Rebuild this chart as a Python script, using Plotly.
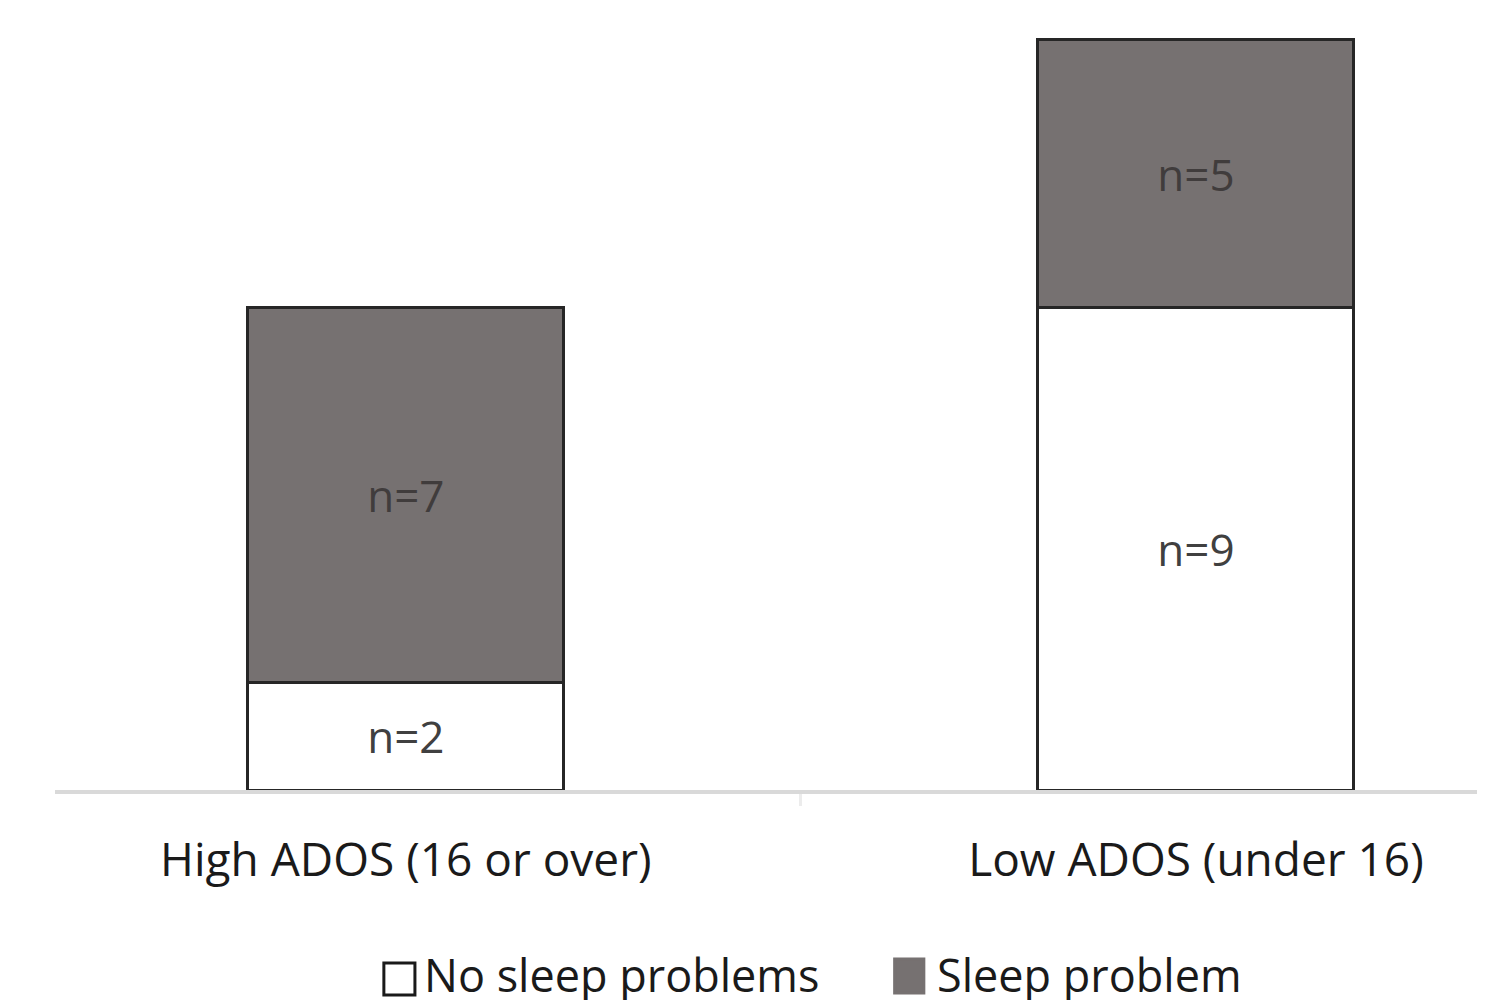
import plotly.graph_objects as go

categories = ["High ADOS (16 or over)", "Low ADOS (under 16)"]
no_sleep_problems = [2, 9]
sleep_problem = [7, 5]
series_names = ["No sleep problems", "Sleep problem"]

FONT = "Open Sans"
GRAY = "#767171"

fig = go.Figure()
fig.add_trace(go.Bar(
    x=categories, y=no_sleep_problems, name=series_names[0],
    marker=dict(color="#ffffff", line=dict(color="#262626", width=3)),
    text=[f"n={v}" for v in no_sleep_problems], textposition="inside",
    insidetextanchor="middle", textangle=0, constraintext="none",
    textfont=dict(family=FONT, size=44, color="#404040"),
    width=0.40, showlegend=False,
))
fig.add_trace(go.Bar(
    x=categories, y=sleep_problem, name=series_names[1],
    marker=dict(color=GRAY, line=dict(color="#262626", width=3)),
    text=[f"n={v}" for v in sleep_problem], textposition="inside",
    insidetextanchor="middle", textangle=0, constraintext="none",
    textfont=dict(family=FONT, size=44, color="#403c3c"),
    width=0.40, showlegend=False,
))

# Custom legend (boxes + labels) at the bottom
legend_items = [
    (0.2287, 0.2503, -0.2662, -0.2247, "#ffffff", "#1a1a1a", 0.2552, series_names[0]),
    (0.5839, 0.6042, -0.2636, -0.2195, GRAY, GRAY, 0.6120, series_names[1]),
]
shapes = []
annotations = []
for x0, x1, y0, y1, col, lcol, tx, label in legend_items:
    shapes.append(dict(type="rect", xref="paper", yref="paper",
                       x0=x0, x1=x1, y0=y0, y1=y1,
                       fillcolor=col, line=dict(color=lcol, width=3)))
    annotations.append(dict(xref="paper", yref="paper", x=tx, y=-0.240,
                            text=label, showarrow=False, xanchor="left", yanchor="middle",
                            font=dict(family=FONT, size=45, color="#1a1a1a")))

fig.update_layout(
    barmode="stack",
    width=1485, height=1000,
    margin=dict(l=47, r=0, t=12, b=218),
    paper_bgcolor="white", plot_bgcolor="white",
    showlegend=False,
    shapes=shapes,
    annotations=annotations,
    xaxis=dict(
        range=[-0.444, 1.376],
        showline=True, linecolor="#d9d9d9", linewidth=4,
        tickson="boundaries", ticks="outside", ticklen=12, tickwidth=3, tickcolor="#ececec",
        tickfont=dict(family=FONT, size=46, color="#1a1a1a"),
        ticklabelstandoff=27,
        showgrid=False, zeroline=False,
    ),
    yaxis=dict(
        range=[0, 14.37], visible=False, showgrid=False, zeroline=False,
    ),
)

fig.write_html("out.html")
